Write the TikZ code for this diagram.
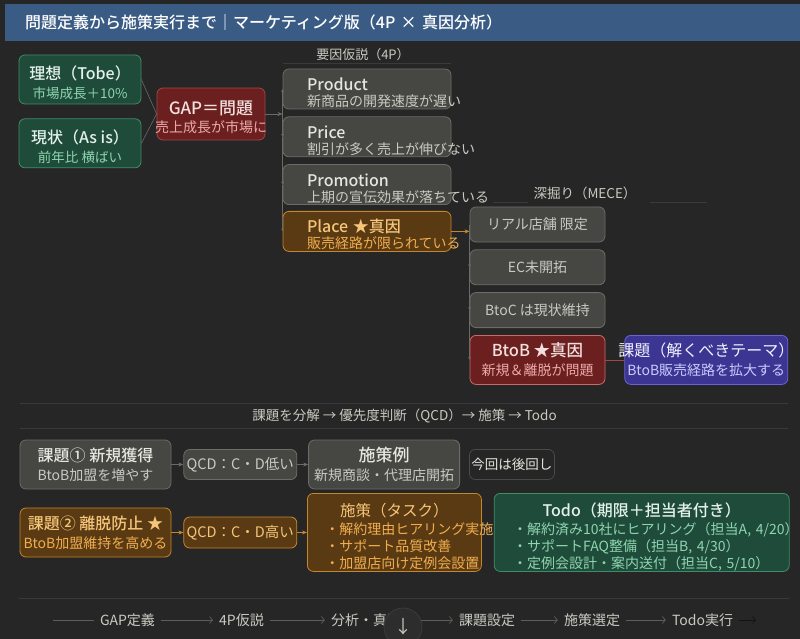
\documentclass[tikz,border=0pt]{standalone}
\usepackage{fontspec}
\setmainfont{Noto Sans CJK JP}[BoldFont={Noto Sans CJK JP Medium}]
\usetikzlibrary{arrows.meta,positioning,calc}

\definecolor{bgdark}{HTML}{262626}
\definecolor{titleblue}{HTML}{3A5B84}
\definecolor{grayfill}{HTML}{464643}
\definecolor{grayedge}{HTML}{6C6C66}
\definecolor{graytext}{HTML}{E6E6DF}
\definecolor{graysub}{HTML}{CACAC2}
\definecolor{greenfill}{HTML}{1E4B3A}
\definecolor{greenedge}{HTML}{3E8C6A}
\definecolor{greentext}{HTML}{E4F1E9}
\definecolor{greensub}{HTML}{8FD5AF}
\definecolor{redfill}{HTML}{6B1F1F}
\definecolor{rededge}{HTML}{A24646}
\definecolor{redlight}{HTML}{C86A6A}
\definecolor{redtext}{HTML}{F3DEDE}
\definecolor{redsub}{HTML}{ECA9A9}
\definecolor{orangefill}{HTML}{5A3A12}
\definecolor{orangeedge}{HTML}{C4862E}
\definecolor{orangetext}{HTML}{F5C57A}
\definecolor{orangesub}{HTML}{F0AE50}
\definecolor{indigofill}{HTML}{3C3591}
\definecolor{indigoedge}{HTML}{6A62D8}
\definecolor{indigotext}{HTML}{F2F2FF}
\definecolor{indigosub}{HTML}{C9CBFF}
\definecolor{linkgray}{HTML}{6A6A66}
\definecolor{rulegray}{HTML}{3A3A3A}
\definecolor{captext}{HTML}{CACAC2}
\definecolor{flowgray}{HTML}{5E5E5A}
\definecolor{lateredge}{HTML}{4A4A48}
\definecolor{scrollfill}{HTML}{2D2D2D}
\definecolor{scrolledge}{HTML}{3C3C3C}

\newcommand\fsz[1]{\fontsize{#1}{#1}\selectfont}
\newcommand\spill[1]{\makebox[0pt][l]{#1}}
\newcommand\spillc[1]{\makebox[0pt]{#1}}
\newcommand\drop[1]{\rule{0pt}{#1}}

\begin{document}
\begin{tikzpicture}[x=1pt, y=-1pt,
  node distance=7pt,
  box/.style={rectangle, rounded corners=6pt, line width=0.8pt, inner sep=0pt,
              align=center, font=\fontsize{14}{19}\selectfont},
  graybox/.style={box, draw=grayedge, fill=grayfill, text=graytext},
  greenbox/.style={box, draw=greenedge, fill=greenfill, text=greentext},
  redbox/.style={box, draw=rededge, fill=redfill, text=redtext},
  orangebox/.style={box, draw=orangeedge, fill=orangefill, text=orangetext},
  indigobox/.style={box, draw=indigoedge, fill=indigofill, text=indigotext},
  fourp/.style={graybox, text width=120, inner xsep=24pt, minimum height=40,
                align=left, font=\fontsize{14}{16}\selectfont},
  mece/.style={graybox, minimum width=135, minimum height=35, font=\fsz{14}, text=graysub},
  link/.style={draw=linkgray, line width=0.6pt},
  arrow/.style={link, -{Stealth[length=5pt,width=4pt]}},
  branch/.style={link, -{Stealth[length=3pt,width=3pt]}},
  caption/.style={text=captext, font=\fsz{13}},
  rule/.style={draw=rulegray, line width=0.7pt},
  flow/.style={text=captext, font=\fsz{14}, inner xsep=6pt},
  flowarrow/.style={draw=flowgray, line width=0.7pt, -{Straight Barb[length=3pt,width=7pt]}}
]
  \useasboundingbox (0,0) rectangle (800,639);
  \fill[bgdark] (0,0) rectangle (800,639);
  \node[fill=titleblue, anchor=north west, text width=755, inner xsep=20pt,
        minimum height=37, align=left, text=white, font=\fsz{16}\bfseries] (title) at (5,4)
        {問題定義から施策実行まで｜マーケティング版（4P × 真因分析）};

  % ideal / current / gap
  \node[greenbox, minimum width=122, minimum height=49] (tobe) at (80,79.5)
       {\drop{20pt}{\fsz{16}\bfseries 理想（Tobe）}\\{\color{greensub}\fsz{13.5}市場成長＋10\%}};
  \node[greenbox, minimum width=122, minimum height=49, below=14pt of tobe] (asis)
       {\drop{20pt}{\fsz{16}\bfseries 現状（As is）}\\{\color{greensub}\fsz{13.5}前年比 横ばい}};
  \node[redbox, minimum width=108, minimum height=52] (gap) at (211,114)
       {\drop{20pt}{\fsz{17}\bfseries GAP＝問題}\\[-1pt]{\color{redsub}\spillc{売上成長が市場に}}};

  % 4P hypotheses
  \node[caption] (hypolabel) at (363,55) {要因仮説（4P）};
  \node[fourp] (product) at (367,89)
       {\drop{20pt}\spill{\fsz{16}\bfseries Product}\\\spill{\color{graysub}新商品の開発速度が遅い}};
  \node[fourp, below=of product] (price)
       {\drop{20pt}\spill{\fsz{16}\bfseries Price}\\\spill{\color{graysub}割引が多く売上が伸びない}};
  \node[fourp, below=of price] (promotion)
       {\drop{20pt}\spill{\fsz{16}\bfseries Promotion}\\\spill{\color{graysub}上期の宣伝効果が落ちている}};
  \node[fourp, draw=orangeedge, fill=orangefill, text=orangetext, below=6pt of promotion] (place)
       {\drop{20pt}\spill{\fsz{16}\bfseries Place ★真因}\\\spill{\color{orangesub}販売経路が限られている}};
  \draw[rule] ([yshift=5pt]product.north west) -- ([yshift=5pt]product.north east);

  % MECE drill-down
  \node[caption, font=\fsz{13.5}] (mecelabel) at (585,193) {深掘り（MECE）};
  \draw[rule] (493,202) -- (528,202);
  \draw[rule] (650,202) -- (707,202);
  \node[mece] (real) at (537.5,224.5) {リアル店舗 限定};
  \node[mece, below=of real] (ec) {EC未開拓};
  \node[mece, below=of ec] (btoc) {BtoC は現状維持};
  \node[redbox, draw=redlight, minimum width=135, minimum height=49, below=of btoc] (btob)
       {{\fsz{16.5}\bfseries BtoB ★真因}\\{\color{redsub}新規＆離脱が問題}};
  \node[indigobox, minimum width=163, minimum height=49, right=19pt of btob] (theme)
       {{\fsz{16}\spillc{課題（解くべきテーマ）}}\\{\color{indigosub}\spillc{BtoB販売経路を拡大する}}};

  \draw[link] (tobe.east) -- (gap.west);
  \draw[link] (asis.east) -- (gap.west);
  \coordinate (hub) at (gap.east -| product.west);
  \draw[arrow] (gap.east) -- (hub);
  \draw[branch] (hub) -- (product.west);
  \draw[branch] (hub) -- (price.west);
  \draw[branch] (price.west) -- (promotion.west);
  \draw[branch] (promotion.west) -- (place.west);
  \draw[arrow, draw=orangeedge] (place.east) -- (place.east -| real.west);
  \draw[branch] (real.west) -- (ec.west);
  \draw[branch] (ec.west) -- (btoc.west);
  \draw[branch] (btoc.west) -- (btob.west);
  \draw[link, draw=rededge] (btob.east) -- (theme.west);

  % breakdown
  \draw[rule] (20,403) -- (788,403);
  \node[caption, font=\fsz{13.5}] (steps) at (404.5,416) {課題を分解 → 優先度判断（QCD）→ 施策 → Todo};
  \draw[rule] (20,428) -- (788,428);

  \node[graybox, minimum width=151, minimum height=49] (kadai1) at (95.5,464.5)
       {{\fsz{16}\bfseries 課題① 新規獲得}\\{\color{graysub}BtoB加盟を増やす}};
  \node[graybox, minimum width=113, minimum height=30, text=graysub, font=\fsz{14.5},
        right=12pt of kadai1] (qcd1) {\spillc{QCD：C・D低い}};
  \node[graybox, minimum width=151, minimum height=49, right=11pt of qcd1] (example)
       {{\fsz{17}\bfseries 施策例}\\{\color{graysub}新規商談・代理店開拓}};
  \node[box, draw=lateredge, fill=bgdark, text=graytext, minimum width=85, minimum height=30,
        font=\fsz{13.5}, right=9pt of example] (later) {今回は後回し};

  \node[orangebox, minimum width=151, minimum height=49] (kadai2) at (95.5,532.5)
       {{\fsz{16}\bfseries 課題② 離脱防止 ★}\\{\color{orangesub}BtoB加盟維持を高める}};
  \node[orangebox, minimum width=113, minimum height=31, font=\fsz{14.5},
        right=12pt of kadai2] (qcd2) {\spillc{QCD：C・D高い}};
  \node[orangebox, anchor=north west, text width=138, inner xsep=18pt, minimum height=78,
        align=left, font=\fontsize{14}{17}\selectfont] (measure) at (307,493)
       {\drop{22pt}\makebox[\linewidth]{\fsz{15.5}施策（タスク）}\\[1pt]
        \spill{\color{orangesub}・解約理由ヒアリング実施}\\
        \spill{\color{orangesub}・サポート品質改善}\\
        \spill{\color{orangesub}・加盟店向け定例会設置}};
  \node[greenbox, text=greensub, text width=257, inner xsep=19pt, minimum height=78,
        align=left, font=\fontsize{14}{17}\selectfont, right=12pt of measure] (todo)
       {\drop{22pt}\makebox[\linewidth]{\fsz{16}\bfseries\color{greentext}Todo（期限＋担当者付き）}\\[1pt]
        \spill{・解約済み10社にヒアリング（担当A, 4/20）}\\
        \spill{・サポートFAQ整備（担当B, 4/30）}\\
        \spill{・定例会設計・案内送付（担当C, 5/10）}};

  \draw[arrow] (kadai1) -- (qcd1);
  \draw[arrow] (qcd1) -- (example);
  \draw[arrow, draw=orangeedge] (kadai2) -- (qcd2);
  \draw[arrow, draw=orangeedge] (qcd2) -- (measure);

  % bottom flow
  \draw[rule] (19,598) -- (789,598);
  \coordinate (flowstart) at (53,620);
  \node[flow] (gapdef) at (127.5,620) {GAP定義};
  \node[flow] (hypo) at (241.5,620) {4P仮説};
  \node[flow] (analysis) at (366,620) {分析・真因};
  \node[flow] (setting) at (487,620) {課題設定};
  \node[flow] (choice) at (592,620) {施策選定};
  \node[flow] (doing) at (702.5,620) {Todo実行};
  \coordinate (flowend) at (756,620);
  \draw[flowarrow, -] (flowstart) -- (gapdef);
  \draw[flowarrow] (gapdef) -- (hypo);
  \draw[flowarrow] (hypo) -- (analysis);
  \draw[flowarrow] (analysis) -- (setting);
  \draw[flowarrow] (setting) -- (choice);
  \draw[flowarrow] (choice) -- (doing);
  \draw[flowarrow, draw=rulegray!120] (doing) -- (flowend);
  \node[circle, fill=scrollfill, draw=scrolledge, line width=0.8pt, minimum size=38, inner sep=0pt,
        text=captext, font=\fsz{18}] (scroll) at (403,627) {↓};
\end{tikzpicture}
\end{document}
